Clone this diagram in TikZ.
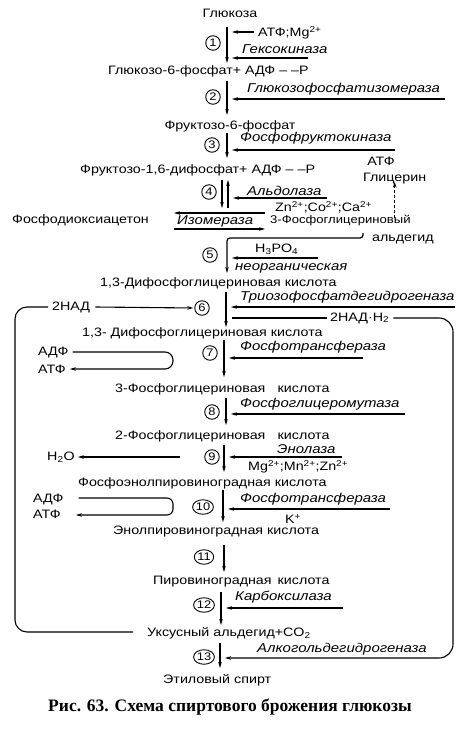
\documentclass[tikz,border=0pt]{standalone}
\usepackage{fontspec}
\setmainfont[FakeStretch=1.17]{Liberation Sans}
\newfontfamily\capfont{Liberation Serif}
\usetikzlibrary{arrows.meta,shapes.geometric}
\begin{document}
\begin{tikzpicture}[x=1pt,y=-1pt,
  txt/.style={inner sep=0pt,anchor=west,font=\fontsize{12.2}{14}\selectfont},
  ctxt/.style={txt,anchor=center},
  enztxt/.style={txt,font=\fontsize{12.8}{14}\selectfont\itshape},
  num/.style={draw,ellipse,line width=0.9pt,inner sep=0.2pt,minimum width=14.5pt,minimum height=14.5pt,font=\fontsize{11}{11}\selectfont},
  mainarr/.style={line width=1.3pt,-{Stealth[length=6pt,width=3.5pt]}},
  enzarr/.style={line width=1.1pt,-{Stealth[length=6pt,width=3.5pt]},shorten >=5pt},
  sidearr/.style={line width=1.1pt,-{Stealth[length=6pt,width=3.5pt]}},
  plain/.style={line width=1.1pt},
]
\useasboundingbox (0,0) rectangle (467,735);
\fill[white] (0,0) rectangle (467,735);

% ---- step 1
\node[ctxt] (glc) at (230,13) {Глюкоза};
\coordinate (a1s) at (227,27); \coordinate (a1e) at (227,63);
\draw[mainarr] (a1s) -- (a1e);
\node[num] (n1) at (213,43) {1};
\node[txt] (atp1) at (258,33) {АТФ;Mg\textsuperscript{2+}};
\draw[enzarr] ([xshift=-4pt,yshift=1pt]atp1.west) -- ([yshift=1pt]atp1.west -| a1s);
\node[enztxt] (hex) at (242,49) {Гексокиназа};
\coordinate (e1) at (308,58);
\draw[enzarr] (e1) -- (e1 -| a1s);
\node[txt] (g6p) at (108,71) {Глюкозо-6-фосфат+ АДФ – –Р};

% ---- step 2
\coordinate (a2s) at (227,81); \coordinate (a2e) at (227,115);
\draw[mainarr] (a2s) -- (a2e);
\node[num] (n2) at (213,97) {2};
\node[enztxt] (gpi) at (247,89) {Глюкозофосфатизомераза};
\coordinate (e2) at (445,99);
\draw[enzarr] (e2) -- (e2 -| a2s);
\node[ctxt] (f6p) at (230,126) {Фруктозо-6-фосфат};

% ---- step 3
\coordinate (a3s) at (227,133); \coordinate (a3e) at (227,158);
\draw[mainarr] (a3s) -- (a3e);
\node[num] (n3) at (212,145) {3};
\node[enztxt] (pfk) at (240,138) {Фосфофруктокиназа};
\coordinate (e3) at (395,150);
\draw[enzarr] (e3) -- (e3 -| a3s);
\node[ctxt] (atp3) at (381,161) {АТФ};
\node[txt] (fbp) at (80,170) {Фруктозо-1,6-дифосфат+ АДФ – –Р};
\node[txt] (gly) at (363,179) {Глицерин};

% ---- step 4
\coordinate (a4d) at (222,180); \coordinate (a4de) at (222,208);
\coordinate (a4u) at (228,208); \coordinate (a4ue) at (228,180);
\draw[mainarr] (a4d) -- (a4de);
\draw[mainarr] (a4u) -- (a4ue);
\node[num] (n4) at (209,192) {4};
\node[enztxt] (ald) at (247,191) {Альдолаза};
\coordinate (e4) at (327,198);
\draw[enzarr] (e4) -- (e4 -| a4u);
\node[txt] (zn) at (275,207) {Zn\textsuperscript{2+};Co\textsuperscript{2+};Ca\textsuperscript{2+}};
\node[txt] (dhap) at (12,220) {Фосфодиоксиацетон};
\node[enztxt] (iso) at (177,221) {Изомераза};
\coordinate (i1) at (265,213); \coordinate (i2) at (174,213);
\coordinate (i3) at (174,229); \coordinate (i4) at (265,229);
\draw[sidearr] (i1) -- (i2);
\draw[sidearr] (i3) -- (i4);
\node[txt,font=\fontsize{11.2}{13}\selectfont] (pga) at (270,221) {3-Фосфоглицериновый};
\node[txt] (pga2) at (372,239) {альдегид};
\draw[line width=1.1pt,dash pattern=on 3pt off 2pt,-{Stealth[length=6pt,width=3.5pt]}]
  ([yshift=-3pt]gly.south |- pga.north) -- ([yshift=3pt]gly.south);

% ---- step 5
\coordinate (c5a) at (363,233); \coordinate (c5b) at (363,238);
\coordinate (a5s) at (227,238); \coordinate (a5e) at (227,273);
\draw[mainarr,rounded corners=3pt] (c5a) -- (c5b) -- (a5s) -- (a5e);
\node[num] (n5) at (210,255) {5};
\node[txt] (h3po4) at (255,249) {H\textsubscript{3}PO\textsubscript{4}};
\coordinate (e5) at (318,258);
\draw[enzarr] (e5) -- (e5 -| a5s);
\node[enztxt] (inorg) at (235,268) {неорганическая};
\node[txt] (dpg1) at (100,283) {1,3-Дифосфоглицериновая кислота};

% ---- step 6
\coordinate (a6s) at (226,292); \coordinate (a6e) at (226,327);
\draw[mainarr] (a6s) -- (a6e);
\node[num] (n6) at (202,308) {6};
\node[enztxt] (gapdh) at (240,297) {Триозофосфатдегидрогеназа};
\coordinate (e6) at (455,307);
\draw[enzarr] (e6) -- (e6 -| a6s);
\node[txt] (nad) at (52,307) {2НАД};
\draw[sidearr,shorten >=1pt] ([xshift=5pt]nad.east) -- (n6.west);
\node[txt] (nadh) at (330,318) {2НАД·Н\textsubscript{2}};
\draw[plain] ([xshift=6pt]nadh.west -| a6s) -- ([xshift=-3pt]nadh.west);
\node[txt] (dpg2) at (82,333) {1,3- Дифосфоглицериновая кислота};

% ---- step 7
\coordinate (a7s) at (224,340); \coordinate (a7e) at (224,377);
\draw[mainarr] (a7s) -- (a7e);
\node[num] (n7) at (210,353) {7};
\node[enztxt] (pt1) at (240,347) {Фосфотрансфераза};
\coordinate (e7) at (363,358);
\draw[enzarr] (e7) -- (e7 -| a7s);
\node[txt] (adp7) at (38,352) {АДФ};
\node[txt] (atp7) at (38,369) {АТФ};
\coordinate (u7) at (173,361);
\draw[sidearr,rounded corners=8pt] ([xshift=4pt]adp7.east) -- (adp7.east -| u7) -- (atp7.east -| u7) -- ([xshift=4pt]atp7.east);
\node[txt] (pg3) at (115,389) {3-Фосфоглицериновая\hspace{1em}кислота};

% ---- step 8
\coordinate (a8s) at (226,398); \coordinate (a8e) at (226,425);
\draw[mainarr] (a8s) -- (a8e);
\node[num] (n8) at (212,412) {8};
\node[enztxt] (pgm) at (240,404) {Фосфоглицеромутаза};
\coordinate (e8) at (405,414);
\draw[enzarr] (e8) -- (e8 -| a8s);
\node[txt] (pg2) at (115,436) {2-Фосфоглицериновая\hspace{1em}кислота};

% ---- step 9
\coordinate (a9s) at (224,445); \coordinate (a9e) at (224,472);
\draw[mainarr] (a9s) -- (a9e);
\node[num] (n9) at (212,457) {9};
\node[txt] (h2o) at (47,457) {H\textsubscript{2}O};
\coordinate (w9) at (180,457);
\draw[sidearr,shorten >=3pt] (w9) -- (w9 -| h2o.east);
\node[enztxt] (eno) at (277,449) {Энолаза};
\coordinate (e9) at (342,457);
\draw[enzarr] (e9) -- (e9 -| a9s);
\node[txt] (mg) at (248,467) {Mg\textsuperscript{2+};Mn\textsuperscript{2+};Zn\textsuperscript{2+}};
\node[txt] (pep) at (78,483) {Фосфоэнолпировиноградная кислота};

% ---- step 10
\coordinate (a10s) at (223,490); \coordinate (a10e) at (223,522);
\draw[mainarr] (a10s) -- (a10e);
\node[num] (n10) at (203,507) {10};
\node[txt] (adp10) at (33,499) {АДФ};
\node[txt] (atp10) at (33,514) {АТФ};
\coordinate (u10) at (173,507);
\draw[sidearr,rounded corners=6pt] ([xshift=15pt,yshift=1pt]adp10.east) -- ([yshift=1pt]adp10.east -| u10) -- ([yshift=-1pt]atp10.east -| u10) -- ([xshift=15pt,yshift=-1pt]atp10.east);
\node[enztxt] (pt2) at (240,499) {Фосфотрансфераза};
\coordinate (e10) at (390,509);
\draw[enzarr] (e10) -- (e10 -| a10s);
\node[txt] (kp) at (285,519) {K\textsuperscript{+}};
\node[txt] (enpyr) at (113,532) {Энолпировиноградная кислота};

% ---- step 11
\coordinate (a11s) at (224,545); \coordinate (a11e) at (224,572);
\draw[mainarr] (a11s) -- (a11e);
\node[num] (n11) at (204,557) {11};
\node[txt] (pyr) at (153,582) {Пировиноградная\hspace{0.5em}кислота};

% ---- step 12
\coordinate (a12s) at (221,592); \coordinate (a12e) at (221,625);
\draw[mainarr] (a12s) -- (a12e);
\node[num] (n12) at (204,605) {12};
\node[enztxt] (carb) at (235,597) {Карбоксилаза};
\coordinate (e12) at (343,608);
\draw[enzarr] (e12) -- (e12 -| a12s);
\node[txt] (aca) at (147,633) {Уксусный альдегид+CO\textsubscript{2}};

% ---- step 13
\coordinate (a13s) at (220,643); \coordinate (a13e) at (220,668);
\draw[mainarr] (a13s) -- (a13e);
\node[num] (n13) at (204,657) {13};
\node[enztxt] (adh) at (257,649) {Алкогольдегидрогеназа};
\node[txt] (eth) at (163,680) {Этиловый спирт};

% ---- NAD loops
\coordinate (l1) at (15,307); \coordinate (l2) at (15,632);
\draw[plain,rounded corners=12pt] ([xshift=-4pt]nad.west) -- (l1) -- (l2) -- ([xshift=-14pt]aca.west |- l2);
\coordinate (r1) at (453,318); \coordinate (r2) at (453,658);
\draw[enzarr,rounded corners=14pt] ([xshift=4pt]nadh.east) -- (r1) -- (r2) -- (r2 -| a13s);

% ---- caption
\node[anchor=center,inner sep=0pt,font=\capfont\bfseries\fontsize{17.5}{19}\selectfont] (cap) at (230,707) {Рис. 63. Схема спиртового брожения глюкозы};
\end{tikzpicture}
\end{document}
